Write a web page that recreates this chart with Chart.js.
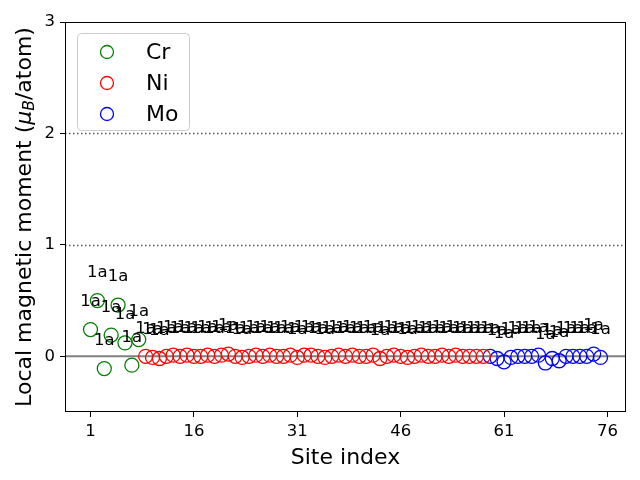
<!DOCTYPE html>
<html>
<head>
<meta charset="utf-8">
<script src="https://cdn.jsdelivr.net/npm/chart.js@4/dist/chart.umd.min.js"></script>
<style>body{margin:0;background:#fff}</style>
</head>
<body>
<canvas id="momentChart" width="640" height="480"></canvas>
<script>
// local moments per site
var crMoments = [0.24, 0.50, -0.11, 0.19, 0.46, 0.12, -0.08, 0.15];
var niMoments = [0.00, -0.01, -0.02, 0.00, 0.01, 0.00, 0.01, 0.00, 0.00, 0.01,
                 0.00, 0.01, 0.02, 0.00, -0.01, 0.00, 0.01, 0.00, 0.01, 0.00,
                 0.00, 0.01, -0.01, 0.01, 0.01, 0.00, -0.01, 0.00, 0.01, 0.00,
                 0.01, 0.00, 0.00, 0.01, -0.02, 0.00, 0.01, 0.00, -0.01, 0.00,
                 0.01, 0.00, 0.00, 0.01, 0.00, 0.01, 0.00, 0.00, 0.00, 0.00];
var moMoments = [0.00, -0.02, -0.05, -0.01, 0.00, 0.00, 0.00, 0.01, -0.06, -0.02,
                 -0.04, 0.00, 0.00, 0.00, 0.00, 0.02, -0.01];
var crFirstSite = 1;
var niFirstSite = 9;
var moFirstSite = 59;
var siteLabel = '1a';
var elements = ['Cr', 'Ni', 'Mo'];
var xTicks = [1, 16, 31, 46, 61, 76];
var yTicks = [0, 1, 2, 3];
var refLines = [1, 2];

var FONT = "'DejaVu Sans', sans-serif";

function toPoints(values, first) {
    return values.map(function (v, i) { return { x: first + i, y: v }; });
}

function ds(label, values, first, color) {
    return {
        label: label,
        data: toPoints(values, first),
        borderColor: color,
        backgroundColor: 'rgba(0,0,0,0)',
        borderWidth: 1.3,
        pointRadius: 7,
        pointHoverRadius: 7,
        showLine: false
    };
}

// lignes de référence, cadre, étiquettes, légende, titre Y
var decor = {
    id: 'decor',
    beforeDatasetsDraw: function (chart) {
        var c = chart.ctx, a = chart.chartArea, y = chart.scales.y;
        c.save();
        c.strokeStyle = '#555555';
        c.lineWidth = 1.5;
        c.setLineDash([1.5, 2.5]);
        refLines.forEach(function (v) {
            var py = Math.round(y.getPixelForValue(v)) + 0.5;
            c.beginPath(); c.moveTo(a.left, py); c.lineTo(a.right, py); c.stroke();
        });
        c.setLineDash([]);
        c.strokeStyle = 'gray';
        c.lineWidth = 2;
        var p0 = y.getPixelForValue(0);
        c.beginPath(); c.moveTo(a.left, p0); c.lineTo(a.right, p0); c.stroke();
        c.restore();
    },
    afterDatasetsDraw: function (chart) {
        var c = chart.ctx, a = chart.chartArea, xs = chart.scales.x, ys = chart.scales.y;
        c.save();
        // étiquettes 1a
        c.fillStyle = '#000';
        c.font = '16.5px ' + FONT;
        c.textAlign = 'center';
        c.textBaseline = 'middle';
        chart.data.datasets.forEach(function (d) {
            d.data.forEach(function (p) {
                c.fillText(siteLabel, xs.getPixelForValue(p.x), ys.getPixelForValue(p.y + 0.25));
            });
        });
        // cadre
        c.strokeStyle = '#000';
        c.lineWidth = 1;
        c.strokeRect(Math.round(a.left) + 0.5, Math.round(a.top) + 0.5,
                     Math.round(a.right - a.left) - 1, Math.round(a.bottom - a.top) - 1);
        // légende
        var lx = 77, ly = 33, lw = 112, lh = 97;
        c.beginPath();
        c.roundRect(lx + 0.5, ly + 0.5, lw, lh, 4);
        c.fillStyle = 'rgba(255,255,255,0.8)';
        c.fill();
        c.strokeStyle = '#cccccc';
        c.stroke();
        c.font = '22px ' + FONT;
        c.textAlign = 'left';
        chart.data.datasets.forEach(function (d, i) {
            var cy = 52 + i * 31;
            c.beginPath();
            c.arc(107, cy, 6.5, 0, Math.PI * 2);
            c.strokeStyle = d.borderColor;
            c.lineWidth = 1.3;
            c.stroke();
            c.fillStyle = '#000';
            c.fillText(elements[i], 146, cy + 1);
        });
        // titre de l'axe Y avec indice
        c.translate(25, (a.top + a.bottom) / 2);
        c.rotate(-Math.PI / 2);
        var parts = [
            ['Local magnetic moment (', '22px ' + FONT, 0],
            ['\u03bc', 'italic 22px ' + FONT, 0],
            ['B', 'italic 15.5px ' + FONT, 5],
            ['/atom)', '22px ' + FONT, 0]
        ];
        var total = 0;
        parts.forEach(function (p) { c.font = p[1]; total += c.measureText(p[0]).width; });
        var x = -total / 2;
        c.textAlign = 'left';
        c.fillStyle = '#000';
        parts.forEach(function (p) {
            c.font = p[1];
            c.fillText(p[0], x, p[2]);
            x += c.measureText(p[0]).width;
        });
        c.restore();
    }
};

var ctx = document.getElementById('momentChart').getContext('2d');
var momentChart = new Chart(ctx, {
    type: 'scatter',
    data: {
        datasets: [
            ds('Cr', crMoments, crFirstSite, 'green'),
            ds('Ni', niMoments, niFirstSite, 'red'),
            ds('Mo', moMoments, moFirstSite, 'blue')
        ]
    },
    options: {
        responsive: false,
        animation: false,
        devicePixelRatio: 1,
        layout: { padding: { left: 0, right: 14, top: 22, bottom: 0 } },
        plugins: {
            legend: { display: false },
            tooltip: { enabled: false }
        },
        scales: {
            x: {
                type: 'linear',
                min: -2.7,
                max: 78.7,
                afterBuildTicks: function (s) { s.ticks = xTicks.map(function (v) { return { value: v }; }); },
                afterFit: function (s) { s.height = 68; },
                grid: { display: true, drawOnChartArea: false, drawTicks: true, tickLength: 5, color: '#000' },
                border: { display: false },
                ticks: { color: '#000', font: { family: FONT, size: 16.5 }, padding: 5, maxRotation: 0 },
                title: { display: true, text: 'Site index', color: '#000', font: { family: FONT, size: 22 }, padding: { top: 0, bottom: 9 } }
            },
            y: {
                min: -0.5,
                max: 3,
                afterBuildTicks: function (s) { s.ticks = yTicks.map(function (v) { return { value: v }; }); },
                afterFit: function (s) { s.width = 65; },
                grid: { display: true, drawOnChartArea: false, drawTicks: true, tickLength: 5, color: '#000' },
                border: { display: false },
                ticks: { color: '#000', font: { family: FONT, size: 16.5 }, padding: 5 }
            }
        }
    },
    plugins: [decor]
});
</script>
</body>
</html>
